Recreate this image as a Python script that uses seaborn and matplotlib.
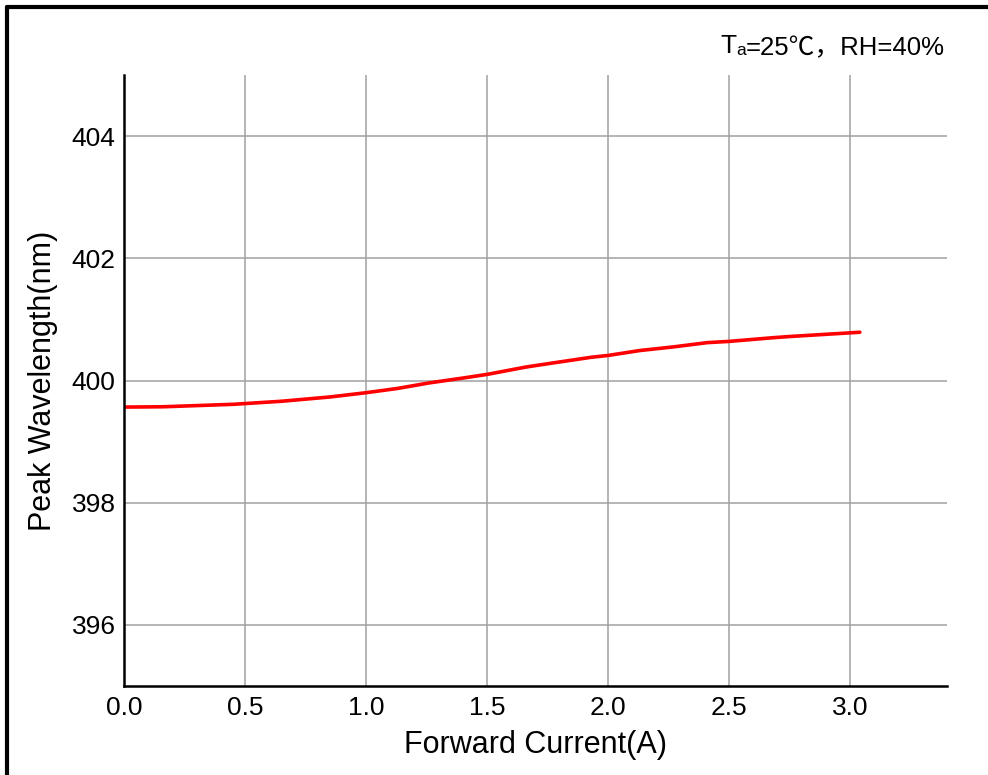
import matplotlib
matplotlib.use("Agg")
import matplotlib.pyplot as plt
import seaborn as sns
import pandas as pd
from matplotlib.lines import Line2D

# Data
current_a = [0.0, 0.16, 0.45, 0.65, 0.85, 1.0, 1.13, 1.26, 1.40, 1.50, 1.66, 1.76, 1.93, 2.0,
             2.13, 2.27, 2.41, 2.5, 2.68, 2.75, 3.0, 3.04]
wavelength_nm = [399.565, 399.57, 399.61, 399.66, 399.73, 399.80, 399.87, 399.96, 400.04, 400.10,
                 400.22, 400.28, 400.38, 400.41, 400.49, 400.55, 400.62, 400.64, 400.70, 400.72,
                 400.78, 400.79]
x_ticks = [0.0, 0.5, 1.0, 1.5, 2.0, 2.5, 3.0]
y_ticks = [396, 398, 400, 402, 404]
x_label = "Forward Current(A)"
y_label = "Peak Wavelength(nm)"

sns.set_theme(style="white")
plt.rcParams['font.family'] = ['Liberation Sans', 'Noto Sans CJK SC', 'DejaVu Sans']

W, H = 988, 775
fig = plt.figure(figsize=(W / 100, H / 100), dpi=100)
ax = fig.add_axes([124 / W, 1 - 686 / H, (947 - 124) / W, (686 - 75) / H])

df = pd.DataFrame({"I": current_a, "WL": wavelength_nm})
sns.lineplot(data=df, x="I", y="WL", color="#ff0000", linewidth=2.6, ax=ax)

ax.set_xlim(0, 3.4)
ax.set_ylim(395, 405)
ax.set_xticks(x_ticks)
ax.set_xticklabels([f"{v:.1f}" for v in x_ticks])
ax.set_yticks(y_ticks)
ax.set_yticklabels([str(v) for v in y_ticks])
ax.set_axisbelow(True)
ax.grid(True, color="#a0a0a0", linewidth=1.1)
for s in ["top", "right"]:
    ax.spines[s].set_visible(False)
for s in ["left", "bottom"]:
    ax.spines[s].set_color("black")
    ax.spines[s].set_linewidth(1.8)
ax.tick_params(axis="both", length=0, labelsize=19, colors="black")
ax.tick_params(axis="x", pad=7.5)
ax.tick_params(axis="y", pad=6)
ax.set_xlabel(x_label, fontsize=22, color="black", labelpad=7)
ax.set_ylabel(y_label, fontsize=22, color="black", labelpad=10)

# Condition annotation
t1 = fig.text(720 / W, 1 - 53 / H, "T", fontsize=19, color="black", va="baseline", ha="left")
t2 = ax.annotate("a", xy=(1, 0), xycoords=t1, xytext=(0, 0), textcoords="offset points",
                 fontsize=12.5, color="black", va="bottom", ha="left", annotation_clip=False)
t3 = ax.annotate("=25℃，RH=40%", xy=(1, 0), xycoords=t2, xytext=(0, -1.5), textcoords="offset points",
                 fontsize=18.5, color="black", va="bottom", ha="left", annotation_clip=False)

# Outer frame (left and top edges visible)
fig.add_artist(Line2D([7 / W, 7 / W], [0, 1 - 7 / H], transform=fig.transFigure, color="black", lw=3))
fig.add_artist(Line2D([7 / W, 1], [1 - 7 / H, 1 - 7 / H], transform=fig.transFigure, color="black", lw=3))

fig.savefig("out.png", dpi=100)
